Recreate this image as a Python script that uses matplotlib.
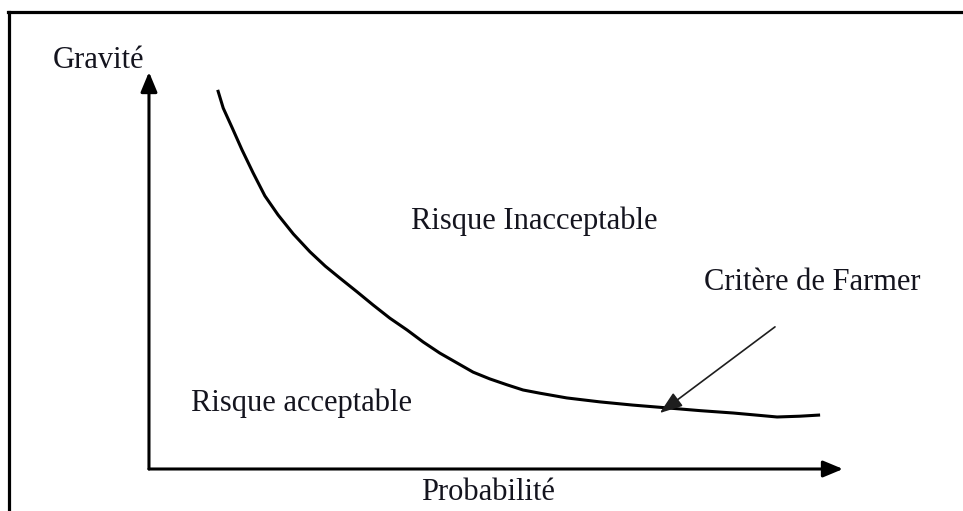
import matplotlib.pyplot as plt
from matplotlib.lines import Line2D

# curve of the Farmer criterion (probability, gravity)
proba = [0.99, 1.07, 1.20, 1.34, 1.50, 1.67, 1.86, 2.08, 2.32, 2.54, 2.75,
         3.00, 3.23, 3.47, 3.72, 3.95, 4.19, 4.44, 4.67, 4.91, 5.16, 5.39,
         5.63, 6.02, 6.50, 6.97, 7.46, 7.94, 8.42, 8.80, 9.05, 9.38, 9.67]
gravite = [9.55, 9.09, 8.59, 8.04, 7.46, 6.88, 6.40, 5.92, 5.47, 5.11, 4.81,
           4.46, 4.13, 3.80, 3.50, 3.20, 2.92, 2.67, 2.44, 2.27, 2.12, 1.99,
           1.91, 1.79, 1.69, 1.61, 1.54, 1.47, 1.41, 1.35, 1.31, 1.33, 1.36]

x_label = "Probabilité"
y_label = "Gravité"
zone_haut = "Risque Inacceptable"
zone_bas = "Risque acceptable"
critere = "Critère de Farmer"

plt.rcParams['font.family'] = ['Liberation Serif', 'DejaVu Serif']
txt = '#14141e'
fs = 22

fig = plt.figure(figsize=(9.63, 5.11), dpi=100)
ax = fig.add_axes([0.1547, 0.0822, 0.7207, 0.7769])
ax.set_xlim(0, 10)
ax.set_ylim(0, 10)
ax.axis('off')

# axes with arrows
arrow = dict(arrowstyle='-|>,head_length=1.2,head_width=0.5', color='black',
             lw=2.2, shrinkA=0, shrinkB=0)
ax.annotate('', xy=(10, 0), xytext=(0, 0), arrowprops=arrow, annotation_clip=False)
ax.annotate('', xy=(0, 10), xytext=(0, 0), arrowprops=arrow, annotation_clip=False)

ax.plot(proba, gravite, color='black', lw=2.2, clip_on=False,
        solid_capstyle='butt', solid_joinstyle='round')

ax.text(-0.73, 10.3, y_label, ha='center', va='center', fontsize=fs, color=txt, clip_on=False)
ax.text(4.89, -0.60, x_label, ha='center', va='center', fontsize=fs, color=txt, clip_on=False)
ax.text(5.55, 6.25, zone_haut, ha='center', va='center', fontsize=fs, color=txt)
ax.text(2.20, 1.66, zone_bas, ha='center', va='center', fontsize=fs, color=txt)
ax.text(9.56, 4.69, critere, ha='center', va='center', fontsize=fs, color=txt, clip_on=False)

ax.annotate('', xy=(7.36, 1.41), xytext=(9.02, 3.58), annotation_clip=False,
            arrowprops=dict(arrowstyle='-|>,head_length=1.4,head_width=0.5',
                            color='#1e1e1e', lw=1.2, shrinkA=0, shrinkB=0))

# frame of the original figure (only left and top edges are visible)
fig.add_artist(Line2D([0.0093, 0.0093], [0, 0.9765], color='black', lw=2.3,
                      transform=fig.transFigure))
fig.add_artist(Line2D([0.0078, 1], [0.9765, 0.9765], color='black', lw=2.3,
                      transform=fig.transFigure))

fig.savefig('out.png', dpi=100, facecolor='white')
